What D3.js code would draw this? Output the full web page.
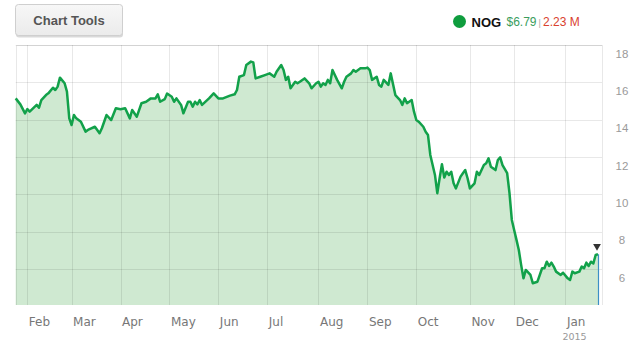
<!DOCTYPE html>
<html>
<head>
<meta charset="utf-8">
<script src="https://cdn.jsdelivr.net/npm/d3@7"></script>
<style>
  body { margin: 0; background: #fff; }
  svg { display: block; }
</style>
</head>
<body>
<div id="container"></div>
<script>
/* CONSTANTS AND GLOBALS */
const width = 638,
  height = 351,
  plot = { left: 15.7, right: 602, top: 45, bottom: 305 }

// trading-day index (0 = Jan 27 2014) and closing price
const days = [0, 2, 4, 5, 6, 9, 10, 11, 13, 14, 16, 17, 18, 19, 21, 22, 23, 24, 25, 26,
  28, 30, 31, 34, 36, 37, 39, 41, 43, 45, 47, 49, 50, 52, 54, 56, 58, 60, 61, 62,
  64, 65, 67, 68, 69, 71, 72, 74, 75, 76, 77, 78, 79, 80, 83, 85, 87, 89, 92, 94,
  95, 96, 98, 99, 101, 102, 103, 105, 107, 109, 111, 112, 114, 115, 116, 117, 118, 120, 121, 122,
  124, 126, 127, 129, 130, 131, 132, 133, 134, 135, 136, 138, 140, 141, 142, 144, 145, 146, 147, 148,
  150, 151, 152, 153, 155, 156, 157, 158, 160, 161, 163, 165, 166, 167, 168, 170, 171, 172, 173, 175,
  176, 177, 178, 180, 181, 182, 183, 184, 185, 186, 187, 188, 189, 191, 192, 193, 194, 195, 197, 198,
  199, 201, 202, 203, 204, 206, 207, 208, 209, 211, 212, 213, 214, 215, 216, 217, 218, 219, 221, 222,
  224, 226, 227, 228, 229, 230, 231, 232, 234, 235, 237, 238, 239, 240, 242, 243, 244, 245, 246, 247,
  248, 249, 250]
const prices = [15.14, 14.82, 14.34, 14.57, 14.43, 14.79, 14.64, 15.05, 15.32, 15.41, 15.71, 15.59, 15.77, 16.25, 15.95, 15.5, 14.07, 13.71, 14.25, 14.07,
  13.89, 13.36, 13.45, 13.62, 13.27, 13.54, 14.25, 13.98, 14.61, 14.56, 14.61, 14.07, 14.52, 14.16, 14.88, 14.96, 15.14, 15.14, 15.36, 14.96,
  15.1, 15.4, 15.23, 14.96, 15.14, 14.79, 14.34, 14.96, 14.96, 14.7, 14.96, 14.82, 15.05, 14.79, 15.14, 15.41, 15.14, 15.14, 15.29, 15.36,
  15.59, 16.3, 16.39, 16.93, 17.11, 17.07, 16.21, 16.3, 16.39, 16.48, 16.3, 16.57, 16.93, 16.66, 16.13, 16.3, 15.68, 16.03, 15.95, 16.03,
  16.21, 15.95, 15.68, 15.95, 16.03, 15.77, 15.95, 15.86, 16.13, 15.95, 16.66, 16.13, 15.68, 16.03, 16.3, 16.48, 16.66, 16.57, 16.66, 16.75,
  16.75, 16.79, 16.66, 16.13, 16.3, 15.86, 15.77, 16.13, 15.86, 16.48, 15.32, 15.05, 14.79, 15.14, 14.88, 15.05, 14.43, 13.98, 13.89, 13.62,
  13.35, 13.18, 12.11, 11.04, 10.06, 10.86, 11.61, 10.9, 11.21, 11.04, 11.21, 10.59, 10.32, 10.95, 11.13, 11.3, 10.86, 10.32, 10.59, 11.21,
  11.04, 11.57, 11.66, 11.93, 11.48, 11.3, 11.84, 11.98, 11.57, 11.13, 10.06, 8.63, 8.09, 7.56, 7.02, 6.22, 5.5, 5.95, 5.68, 5.24,
  5.32, 6.04, 6.04, 6.39, 6.16, 6.34, 6.13, 5.86, 5.68, 5.8, 5.5, 5.41, 5.86, 5.77, 5.86, 6.13, 6.04, 6.34, 6.16, 6.39,
  6.3, 6.75, 6.79]

// first trading day of each month
const monthStarts = [5, 24, 45, 66, 87, 108, 130, 151, 172, 195, 214, 236]
const monthLabels = ["Feb", "Mar", "Apr", "May", "Jun", "Jul", "Aug", "Sep", "Oct", "Nov", "Dec", "Jan"]
const yTicks = [6, 8, 10, 12, 14, 16, 18]

const data = days.map((d, i) => ({ day: d, price: prices[i] }))

/* SCALES */
const xScale = d3.scaleLinear()
  .domain([0, 250])
  .range([plot.left, 598])

const yScale = d3.scaleLinear()
  .domain([6, 18])
  .range([269, plot.top])

/* SVG */
const svg = d3.select("#container")
  .append("svg")
  .attr("width", width)
  .attr("height", height)

// CHART TOOLS BUTTON
const grad = svg.append("defs").append("linearGradient")
  .attr("id", "btn").attr("x1", 0).attr("y1", 0).attr("x2", 0).attr("y2", 1)
grad.append("stop").attr("offset", "0%").attr("stop-color", "#f7f7f7")
grad.append("stop").attr("offset", "100%").attr("stop-color", "#ebebeb")

svg.append("rect")
  .attr("x", 16).attr("y", 5.5).attr("width", 107).attr("height", 32)
  .attr("rx", 3).attr("fill", "#d9d9d9")
svg.append("rect")
  .attr("x", 15.5).attr("y", 4.5).attr("width", 107).attr("height", 31)
  .attr("rx", 3).attr("fill", "url(#btn)").attr("stroke", "#cfcfcf")
svg.append("text")
  .attr("x", 69).attr("y", 25)
  .attr("text-anchor", "middle")
  .attr("font-family", "Liberation Sans, Arial, sans-serif")
  .attr("font-size", 13).attr("font-weight", "bold")
  .attr("fill", "#555")
  .text("Chart Tools")

// LEGEND
const legend = svg.append("g").attr("font-family", "Liberation Sans, Arial, sans-serif")
legend.append("circle").attr("cx", 459.5).attr("cy", 21.5).attr("r", 6.5).attr("fill", "#0f9d3e")
legend.append("text").attr("x", 471.5).attr("y", 26.5)
  .attr("font-size", 13).attr("font-weight", "bold").attr("fill", "#111").text("NOG")
legend.append("text").attr("x", 506.5).attr("y", 26)
  .attr("font-size", 12).attr("fill", "#3a9d5d").text("$6.79")
legend.append("text").attr("x", 538.5).attr("y", 25.5)
  .attr("font-size", 9).attr("fill", "#aaa").text("|")
legend.append("text").attr("x", 543).attr("y", 26)
  .attr("font-size", 12).attr("fill", "#d9412e").text("2.23 M")

// AREA + LINE
const areaGen = d3.area()
  .x(d => xScale(d.day))
  .y0(plot.bottom)
  .y1(d => yScale(d.price))

const lineGen = d3.line()
  .x(d => xScale(d.day))
  .y(d => yScale(d.price))

svg.append("path")
  .datum(data)
  .attr("fill", "#cfe9d1")
  .attr("d", areaGen)

// GRIDLINES (drawn over the fill like the original)
svg.append("g")
  .selectAll("line")
  .data(yTicks)
  .join("line")
  .attr("x1", plot.left).attr("x2", plot.right)
  .attr("y1", d => Math.round(yScale(d)) + 0.5)
  .attr("y2", d => Math.round(yScale(d)) + 0.5)
  .attr("stroke", "#000").attr("stroke-opacity", 0.09)

svg.append("g")
  .selectAll("line")
  .data(monthStarts)
  .join("line")
  .attr("x1", d => Math.round(xScale(d)) + 0.5)
  .attr("x2", d => Math.round(xScale(d)) + 0.5)
  .attr("y1", plot.top).attr("y2", plot.bottom)
  .attr("stroke", "#000").attr("stroke-opacity", 0.09)

// plot frame
svg.append("path")
  .attr("d", `M${Math.round(plot.left) + 0.5},${plot.bottom}V${plot.top + 0.5}H${plot.right + 0.5}V${plot.bottom}`)
  .attr("fill", "none").attr("stroke", "#000").attr("stroke-opacity", 0.09)

svg.append("path")
  .datum(data)
  .attr("fill", "none")
  .attr("stroke", "#12a14a")
  .attr("stroke-width", 2.5)
  .attr("stroke-linejoin", "round")
  .attr("d", lineGen)

// last-value marker
const last = data[data.length - 1]
svg.append("line")
  .attr("x1", xScale(last.day) + 0.5).attr("x2", xScale(last.day) + 0.5)
  .attr("y1", yScale(last.price)).attr("y2", plot.bottom)
  .attr("stroke", "#3d8fc6").attr("stroke-width", 1.2)
svg.append("path")
  .attr("d", d3.symbol(d3.symbolTriangle, 26)())
  .attr("transform", `translate(${xScale(last.day) - 1},${yScale(last.price) - 8}) rotate(180)`)
  .attr("fill", "#333")

/* AXES */
const yAxis = d3.axisRight(yScale)
  .tickValues(yTicks)
  .tickSize(0)
  .tickFormat(d3.format("d"))

const yAxisGroup = svg.append("g")
  .attr("transform", `translate(${622}, 0)`)
  .call(yAxis)
yAxisGroup.select(".domain").remove()
yAxisGroup.selectAll("text")
  .attr("x", 0).attr("dy", "1.05em")
  .attr("text-anchor", "middle")
  .attr("font-family", "Liberation Sans, Arial, sans-serif")
  .attr("font-size", 11.5)
  .attr("fill", "#9a9a9a")

const xAxis = d3.axisBottom(xScale)
  .tickValues(monthStarts)
  .tickSize(0)
  .tickFormat((d, i) => monthLabels[i])

const xAxisGroup = svg.append("g")
  .attr("transform", `translate(0, ${plot.bottom})`)
  .call(xAxis)
xAxisGroup.select(".domain").remove()
xAxisGroup.selectAll("text")
  .attr("x", 1).attr("y", 21).attr("dy", 0)
  .attr("text-anchor", "start")
  .attr("font-family", "DejaVu Sans, Verdana, sans-serif")
  .attr("font-size", 12)
  .attr("fill", "#777")

xAxisGroup.append("text")
  .attr("x", xScale(monthStarts[monthStarts.length - 1]) - 3)
  .attr("y", 35)
  .attr("text-anchor", "start")
  .attr("font-family", "DejaVu Sans, Verdana, sans-serif")
  .attr("font-size", 9.5)
  .attr("fill", "#999")
  .text("2015")
</script>
</body>
</html>
